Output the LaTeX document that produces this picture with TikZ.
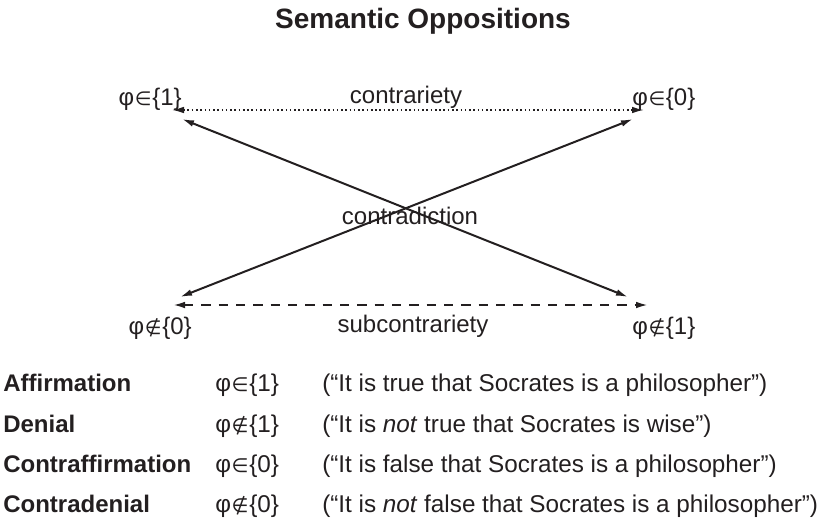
\documentclass[tikz,border=0pt]{standalone}
\usepackage{fontspec}
\setmainfont{Liberation Sans}
\newfontfamily\symfont[Scale=0.8]{DejaVu Sans}
\usetikzlibrary{arrows.meta}

\definecolor{ink}{HTML}{231F20}
\newcommand{\phiIn}[1]{φ{\symfont\kern0.5pt∈\kern0.5pt}\{#1\}}
\newcommand{\phiOut}[1]{φ{\symfont\kern0.5pt∉\kern0.5pt}\{#1\}}

\begin{document}
\begin{tikzpicture}[x=0.75pt,y=-0.75pt,
  txt/.style={text=ink, inner sep=0pt, font=\fontsize{18}{22}\selectfont},
  row/.style={txt, anchor=base west, font=\fontsize{18.2}{22}\selectfont},
  head/.style={txt, anchor=base west, font=\fontsize{18}{22}\selectfont\bfseries},
  link/.style={draw=ink, line width=1.5pt,
    {Latex[length=9pt,width=5pt]}-{Latex[length=9pt,width=5pt]}}]
\useasboundingbox (0,0) rectangle (817,522);

\node[txt, font=\fontsize{21}{25}\selectfont\bfseries] (title) at (423,21) {Semantic Oppositions};

% corners of the square
\node[txt, anchor=east] (aff) at (182,99) {\phiIn{1}};
\node[txt, anchor=west] (caff) at (632,99) {\phiIn{0}};
\node[txt, anchor=east] (cden) at (192,328) {\phiOut{0}};
\node[txt, anchor=west] (den) at (632,328) {\phiOut{1}};

\coordinate (aff-h) at (172,110);
\coordinate (aff-d) at (182,119);
\coordinate (caff-h) at (644,110);
\coordinate (caff-d) at (633,119);
\coordinate (cden-h) at (173,305);
\coordinate (cden-d) at (180,297);
\coordinate (den-h) at (648,305);
\coordinate (den-d) at (628,297);

\draw[link, line width=1.2pt, dotted] (aff-h) -- (caff-h);
\draw[link, dashed, dash pattern=on 7pt off 6pt] (cden-h) -- (den-h);
\draw[link] (aff-d) -- (den-d);
\draw[link] (caff-d) -- (cden-d);

\node[txt] (contrary) at (406,97) {contrariety};
\node[txt] (contradict) at (410,216) {contradiction};
\node[txt] (subcontrary) at (413,326) {subcontrariety};

% legend
\node[head] (r1a) at (3,391) {Affirmation};
\node[head] (r2a) at (3,432) {Denial};
\node[head] (r3a) at (3,472) {Contraffirmation};
\node[head] (r4a) at (3,512) {Contradenial};

\node[row] (r1b) at (215,391) {\phiIn{1}};
\node[row] (r2b) at (215,432) {\phiOut{1}};
\node[row] (r3b) at (215,472) {\phiIn{0}};
\node[row] (r4b) at (215,512) {\phiOut{0}};

\node[row] (r1c) at (322,391) {(“It is true that Socrates is a philosopher”)};
\node[row] (r2c) at (322,432) {(“It is \emph{not} true that Socrates is wise”)};
\node[row] (r3c) at (322,472) {(“It is false that Socrates is a philosopher”)};
\node[row] (r4c) at (322,512) {(“It is \emph{not} false that Socrates is a philosopher”)};
\end{tikzpicture}
\end{document}
